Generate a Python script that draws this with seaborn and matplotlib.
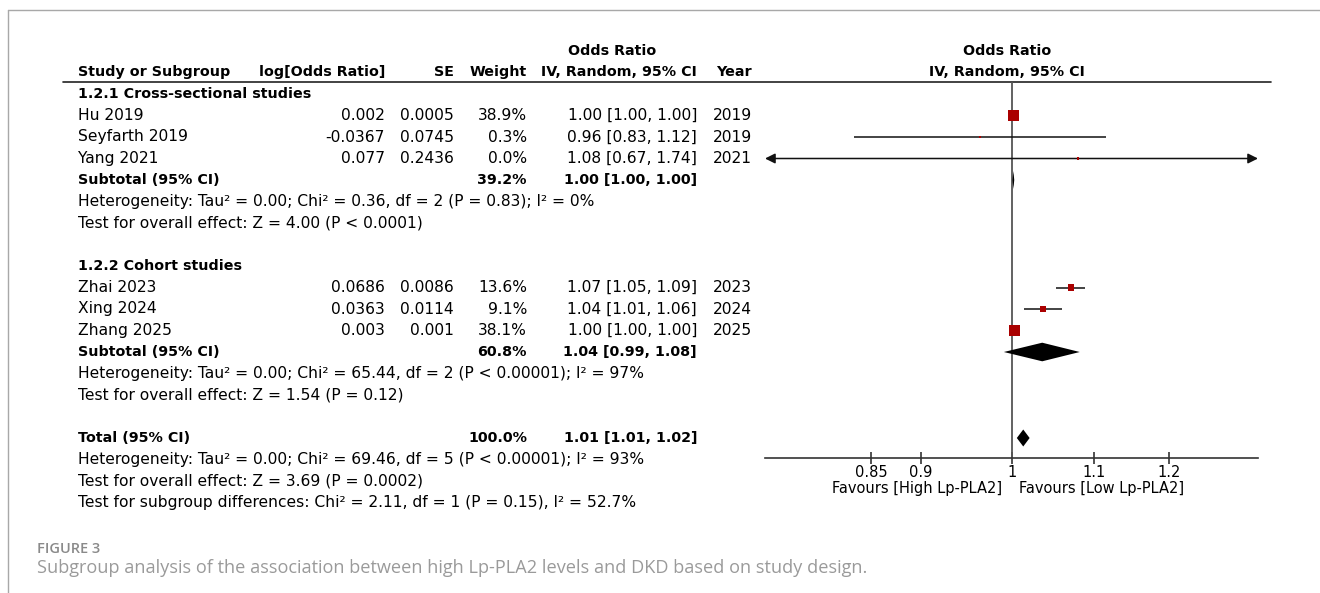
import numpy as np
import pandas as pd
import seaborn as sns
import matplotlib.pyplot as plt
from matplotlib.ticker import NullLocator

# Study level data
studies = ['Hu 2019', 'Seyfarth 2019', 'Yang 2021', 'Zhai 2023', 'Xing 2024', 'Zhang 2025']
log_or = [0.002, -0.0367, 0.077, 0.0686, 0.0363, 0.003]
log_or_txt = ['0.002', '-0.0367', '0.077', '0.0686', '0.0363', '0.003']
se = [0.0005, 0.0745, 0.2436, 0.0086, 0.0114, 0.001]
se_txt = ['0.0005', '0.0745', '0.2436', '0.0086', '0.0114', '0.001']
weight = [38.9, 0.3, 0.0, 13.6, 9.1, 38.1]
ci_txt = ['1.00 [1.00, 1.00]', '0.96 [0.83, 1.12]', '1.08 [0.67, 1.74]',
          '1.07 [1.05, 1.09]', '1.04 [1.01, 1.06]', '1.00 [1.00, 1.00]']
year = ['2019', '2019', '2021', '2023', '2024', '2025']

# Pooled estimates (subtotal 1.2.1, subtotal 1.2.2, total), OR scale
pooled_label = ['Subtotal (95% CI)', 'Subtotal (95% CI)', 'Total (95% CI)']
pooled_or = [1.002, 1.036, 1.0135]
pooled_lo = [1.001, 0.991, 1.006]
pooled_hi = [1.003, 1.082, 1.021]
pooled_w_txt = ['39.2%', '60.8%', '100.0%']
pooled_ci_txt = ['1.00 [1.00, 1.00]', '1.04 [0.99, 1.08]', '1.01 [1.01, 1.02]']

groups = ['1.2.1 Cross-sectional studies', '1.2.2 Cohort studies']
stats_txt = [
    'Heterogeneity: Tau\u00b2 = 0.00; Chi\u00b2 = 0.36, df = 2 (P = 0.83); I\u00b2 = 0%',
    'Test for overall effect: Z = 4.00 (P < 0.0001)',
    'Heterogeneity: Tau\u00b2 = 0.00; Chi\u00b2 = 65.44, df = 2 (P < 0.00001); I\u00b2 = 97%',
    'Test for overall effect: Z = 1.54 (P = 0.12)',
    'Heterogeneity: Tau\u00b2 = 0.00; Chi\u00b2 = 69.46, df = 5 (P < 0.00001); I\u00b2 = 93%',
    'Test for overall effect: Z = 3.69 (P = 0.0002)',
    'Test for subgroup differences: Chi\u00b2 = 2.11, df = 1 (P = 0.15), I\u00b2 = 52.7%',
]

ticks = [0.85, 0.9, 1, 1.1, 1.2]
tick_labels = ['0.85', '0.9', '1', '1.1', '1.2']

# row layout (row index -> pixel from top)
group_rows = [0, 8]
study_rows = [1, 2, 3, 9, 10, 11]
pooled_rows = [4, 12, 16]
stats_rows = [5, 6, 13, 14, 17, 18, 19]
def row_y(r):
    return 94 + 21.5 * r

sns.set_style('white')
plt.rcParams['font.family'] = ['DejaVu Sans']
plt.rcParams['text.color'] = 'black'
plt.rcParams['xtick.color'] = 'black'

W, H = 1320, 593
fig = plt.figure(figsize=(W / 100, H / 100), dpi=100)

# background axes in pixel coordinates for the table
bg = fig.add_axes([0, 0, 1, 1])
bg.set_xlim(0, W)
bg.set_ylim(H, 0)
bg.axis('off')

REG = 11.2
BLD = 10.3
col_x = {'study': 78, 'lor': 385, 'se': 454, 'w': 527, 'ci': 697, 'year': 752}

# frame
bg.plot([8, W], [9.5, 9.5], color='#a8a8a8', lw=1)
bg.plot([8, 8], [9.5, H], color='#a8a8a8', lw=1)

# header
hy1, hy2 = 50.7, 71.7
bg.text(612, hy1, 'Odds Ratio', ha='center', va='center', fontsize=BLD, fontweight='bold')
bg.text(col_x['study'], hy2, 'Study or Subgroup', ha='left', va='center', fontsize=BLD, fontweight='bold')
bg.text(col_x['lor'], hy2, 'log[Odds Ratio]', ha='right', va='center', fontsize=BLD, fontweight='bold')
bg.text(col_x['se'], hy2, 'SE', ha='right', va='center', fontsize=BLD, fontweight='bold')
bg.text(col_x['w'], hy2, 'Weight', ha='right', va='center', fontsize=BLD, fontweight='bold')
bg.text(col_x['ci'], hy2, 'IV, Random, 95% CI', ha='right', va='center', fontsize=BLD, fontweight='bold')
bg.text(col_x['year'], hy2, 'Year', ha='right', va='center', fontsize=BLD, fontweight='bold')
bg.text(1007, hy1, 'Odds Ratio', ha='center', va='center', fontsize=BLD, fontweight='bold')
bg.text(1007, hy2, 'IV, Random, 95% CI', ha='center', va='center', fontsize=BLD, fontweight='bold')
bg.plot([63, 1271], [82.3, 82.3], color='#222222', lw=1.2)

for g, r in zip(groups, group_rows):
    bg.text(col_x['study'], row_y(r), g, ha='left', va='center', fontsize=BLD, fontweight='bold')

for i, r in enumerate(study_rows):
    y = row_y(r)
    bg.text(col_x['study'], y, studies[i], ha='left', va='center', fontsize=REG)
    bg.text(col_x['lor'], y, log_or_txt[i], ha='right', va='center', fontsize=REG)
    bg.text(col_x['se'], y, se_txt[i], ha='right', va='center', fontsize=REG)
    bg.text(col_x['w'], y, f'{weight[i]:.1f}%', ha='right', va='center', fontsize=REG)
    bg.text(col_x['ci'], y, ci_txt[i], ha='right', va='center', fontsize=REG)
    bg.text(col_x['year'], y, year[i], ha='right', va='center', fontsize=REG)

for i, r in enumerate(pooled_rows):
    y = row_y(r)
    bg.text(col_x['study'], y, pooled_label[i], ha='left', va='center', fontsize=BLD, fontweight='bold')
    bg.text(col_x['w'], y, pooled_w_txt[i], ha='right', va='center', fontsize=BLD, fontweight='bold')
    bg.text(col_x['ci'], y, pooled_ci_txt[i], ha='right', va='center', fontsize=BLD, fontweight='bold')

for s, r in zip(stats_txt, stats_rows):
    bg.text(col_x['study'], row_y(r), s, ha='left', va='center', fontsize=REG)

# forest plot axes
x0, x1 = 765, 1258
y_top, y_axis = 82.3, 457.7
ax = fig.add_axes([x0 / W, (H - y_axis) / H, (x1 - x0) / W, (y_axis - y_top) / H])
ax.set_facecolor('none')
ax.set_xscale('log')
xmin, xmax = 0.7516, 1.33
ax.set_xlim(xmin, xmax)
ax.set_ylim(y_axis, y_top)

df = pd.DataFrame({'study': studies, 'or': np.exp(log_or), 'weight': weight,
                   'y': [row_y(r) for r in study_rows]})
df['lo'] = np.exp(np.array(log_or) - 1.96 * np.array(se))
df['hi'] = np.exp(np.array(log_or) + 1.96 * np.array(se))

ax.axvline(1, color='#555555', lw=1.3, zorder=1)

for _, row in df.iterrows():
    if row['lo'] < xmin or row['hi'] > xmax:
        ax.annotate('', xy=(xmax, row['y']), xytext=(xmin, row['y']),
                    arrowprops=dict(arrowstyle='<|-|>,head_length=0.6,head_width=0.3',
                                    color='#111111', lw=1.1, shrinkA=0, shrinkB=0),
                    annotation_clip=False, zorder=2)
    else:
        ax.hlines(row['y'], row['lo'], row['hi'], color='#111111', lw=1.1, zorder=2)

sns.scatterplot(data=df, x='or', y='y', size='weight', sizes=(2.2, 63), size_norm=(0, 38.9),
                marker='s', color='#aa0000', linewidth=0, legend=False, ax=ax, zorder=3)

dh = [9, 9.3, 8.5]
for i, r in enumerate(pooled_rows):
    y = row_y(r)
    ax.fill([pooled_lo[i], pooled_or[i], pooled_hi[i], pooled_or[i]],
            [y, y - dh[i], y, y + dh[i]], color='black', lw=0, zorder=3)

ax.set_xticks(ticks)
ax.set_xticklabels(tick_labels)
ax.xaxis.set_minor_locator(NullLocator())
ax.set_yticks([])
ax.set_xlabel('')
ax.set_ylabel('')
ax.tick_params(axis='x', direction='inout', length=8.5, width=1.1, color='#222222',
               labelsize=10.5, labelcolor='black', pad=1, bottom=True)
for sp in ['top', 'left', 'right']:
    ax.spines[sp].set_visible(False)
ax.spines['bottom'].set_color('#333333')
ax.spines['bottom'].set_linewidth(1.2)

bg.text(1002, 489, 'Favours [High Lp-PLA2]', ha='right', va='center', fontsize=10.5)
bg.text(1019, 489, 'Favours [Low Lp-PLA2]', ha='left', va='center', fontsize=10.5)

# caption
bg.text(37, 549, 'FIGURE 3', ha='left', va='center', fontsize=10.5, color='#8a8a8a',
        family='Open Sans', fontweight='semibold')
bg.text(37, 568, 'Subgroup analysis of the association between high Lp-PLA2 levels and DKD based on study design.',
        ha='left', va='center', fontsize=13.1, color='#9a9a9a', family='Open Sans')

fig.savefig('out.png', dpi=100)
